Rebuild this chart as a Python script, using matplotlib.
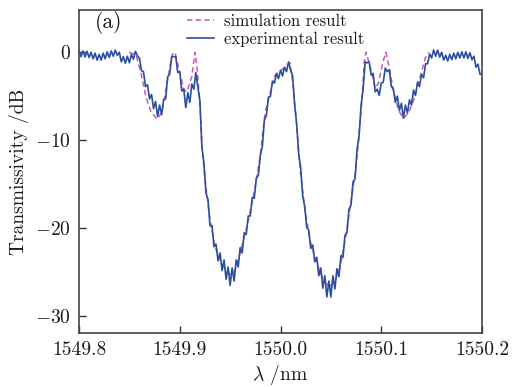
import numpy as np
import matplotlib
matplotlib.use("Agg")
import matplotlib.pyplot as plt

plt.rcParams['font.family'] = ['cmr10', 'DejaVu Serif']
plt.rcParams['mathtext.fontset'] = 'cm'
plt.rcParams['axes.formatter.use_mathtext'] = True

# Simulation result
sim_x = [1549.8497, 1549.8566, 1549.8616, 1549.8665, 1549.8715, 1549.8775, 1549.8824,
         1549.8874, 1549.8923, 1549.8953, 1549.8993, 1549.9043, 1549.9072, 1549.9119,
         1549.9152, 1549.9172, 1549.9202, 1549.9218, 1549.9251, 1549.9301, 1549.9350,
         1549.9417, 1549.9483, 1549.9510, 1549.9549, 1549.9616, 1549.9681, 1549.9748,
         1549.9797, 1549.9847, 1549.9913, 1549.9946, 1550.0013, 1550.0095, 1550.0128,
         1550.0162, 1550.0195, 1550.0244, 1550.0294, 1550.0360, 1550.0426, 1550.0483,
         1550.0542, 1550.0592, 1550.0641, 1550.0691, 1550.0741, 1550.0773, 1550.0807,
         1550.0833, 1550.0850, 1550.0907, 1550.0939, 1550.0972, 1550.1012, 1550.1046,
         1550.1078, 1550.1121, 1550.1171, 1550.1220, 1550.1270, 1550.1320, 1550.1386,
         1550.1436, 1550.1469]
sim_y = [0.0, -0.3, -2.4, -5.1, -6.8, -7.6, -6.8,
         -3.5, -0.3, 0.0, -2.0, -4.3, -4.5, -2.8,
         0.0, -1.7, -6.2, -10.3, -14.5, -19.1, -22.1,
         -24.0, -25.1, -25.3, -24.8, -22.1, -19.1, -15.3,
         -11.9, -6.9, -3.9, -2.6, -2.0, -1.2, -4.0,
         -8.5, -13.4, -18.0, -21.4, -24.0, -25.9, -26.7,
         -25.9, -24.4, -21.4, -17.6, -13.8, -10.3, -5.5,
         -1.0, 0.0, -2.4, -4.1, -3.5, -1.3, 0.0,
         -1.7, -4.3, -6.6, -7.5, -6.9, -5.5, -2.8,
         -0.7, 0.0]

exp_start, exp_stop = 1549.800, 1550.200
exp_y = [0.2, -0.5, 0.15, -0.55, 0.1, -0.6, 0.0, -0.75, -0.1, -0.9,
         -0.25, -0.9, -0.1, -0.75, 0.05, -0.6, 0.15, -0.45, 0.25, -0.35,
         0.0, -1.1, -0.5, -1.25, -0.45, -1.2, -0.25, -0.8, 0.1, -0.4,
         -0.7, -2.1, -2.2, -3.9, -3.7, -5.3, -4.8, -6.4, -5.6, -7.3,
         -6.0, -7.1, -5.4, -5.3, -2.8, -2.5, -0.5, -0.5, -0.5, -2.3,
         -2.2, -4.4, -4.2, -6.3, -4.6, -5.7, -3.6, -4.2, -2.3, -4.0,
         -5.5, -10.8, -12.6, -16.0, -16.7, -19.7, -19.7, -22.1, -21.8, -23.7,
         -22.8, -24.8, -23.6, -25.8, -24.4, -26.5, -24.5, -26.0, -23.6, -24.4,
         -22.2, -22.8, -20.5, -20.7, -18.6, -18.6, -16.5, -16.6, -14.3, -14.0,
         -11.7, -10.7, -7.7, -7.2, -5.1, -5.0, -3.3, -3.5, -2.4, -3.0,
         -2.05, -2.7, -1.7, -2.2, -1.1, -2.0, -2.7, -5.9, -8.1, -11.5,
         -13.1, -16.3, -17.5, -19.9, -20.2, -22.3, -21.9, -23.8, -23.3, -25.4,
         -24.5, -26.8, -25.4, -27.8, -26.0, -27.8, -25.4, -26.9, -24.6, -25.5,
         -23.1, -23.3, -20.8, -20.5, -17.8, -17.4, -14.7, -14.4, -11.0, -9.5,
         -6.0, -4.2, -1.1, -1.2, -1.1, -2.6, -2.4, -4.5, -4.2, -4.9,
         -3.5, -3.4, -1.8, -2.2, -2.0, -3.9, -4.2, -5.7, -5.0, -6.6,
         -5.8, -7.5, -6.0, -6.9, -5.4, -6.0, -4.3, -4.9, -3.4, -3.9,
         -2.5, -2.9, -1.3, -1.3, -0.2, -0.65, 0.25, -0.45, 0.25, -0.55,
         0.0, -0.9, -0.35, -1.0, -0.25, -0.85, -0.1, -0.75, 0.0, -0.65,
         0.05, -0.65, 0.05, -0.7, -0.05, -0.85, -0.45, -1.7, -1.35, -2.5,
         -2.5]
exp_x = np.linspace(exp_start, exp_stop, len(exp_y))

xticks = [1549.8, 1549.9, 1550.0, 1550.1, 1550.2]
xticklabels = ["1549.8", "1549.9", "1550.0", "1550.1", "1550.2"]
yticks = [0, -10, -20, -30]

fig = plt.figure(figsize=(5.13, 3.87), dpi=100)
ax = fig.add_axes([79/513, 54/387, 403/513, 323/387])

ax.plot(sim_x, sim_y, color='#c45ab3', lw=1.1, linestyle=(0, (3.5, 2.2)),
        label='simulation result', zorder=2)
ax.plot(exp_x, exp_y, color='#2b4f9e', lw=1.2, label='experimental result', zorder=3)

ax.set_xlim(1549.8, 1550.2)
ax.set_ylim(-31.9, 4.8)
ax.set_xticks(xticks)
ax.set_xticklabels(xticklabels)
ax.set_yticks(yticks)
ax.tick_params(direction='in', length=5, width=1.0, labelsize=14, colors='#333333',
               labelcolor='#1a1a1a', top=False, right=False, pad=6)
for s in ax.spines.values():
    s.set_color('#444444')
    s.set_linewidth(1.2)

ax.set_xlabel(r"$\lambda$ /nm", fontsize=14, color='#1a1a1a', labelpad=3)
ax.set_ylabel("Transmissivity /dB", fontsize=14, color='#1a1a1a', labelpad=4)

ax.text(0.04, 0.96, "(a)", transform=ax.transAxes, fontsize=15.5, va='center',
        ha='left', color='#1a1a1a')

leg = ax.legend(loc='upper left', bbox_to_anchor=(0.268, 0.99), frameon=False,
                fontsize=12, handlelength=1.6, handletextpad=0.6,
                labelspacing=0.2, borderaxespad=0, borderpad=0)
for t in leg.get_texts():
    t.set_color('#1a1a1a')

fig.savefig("out.png", dpi=100)
